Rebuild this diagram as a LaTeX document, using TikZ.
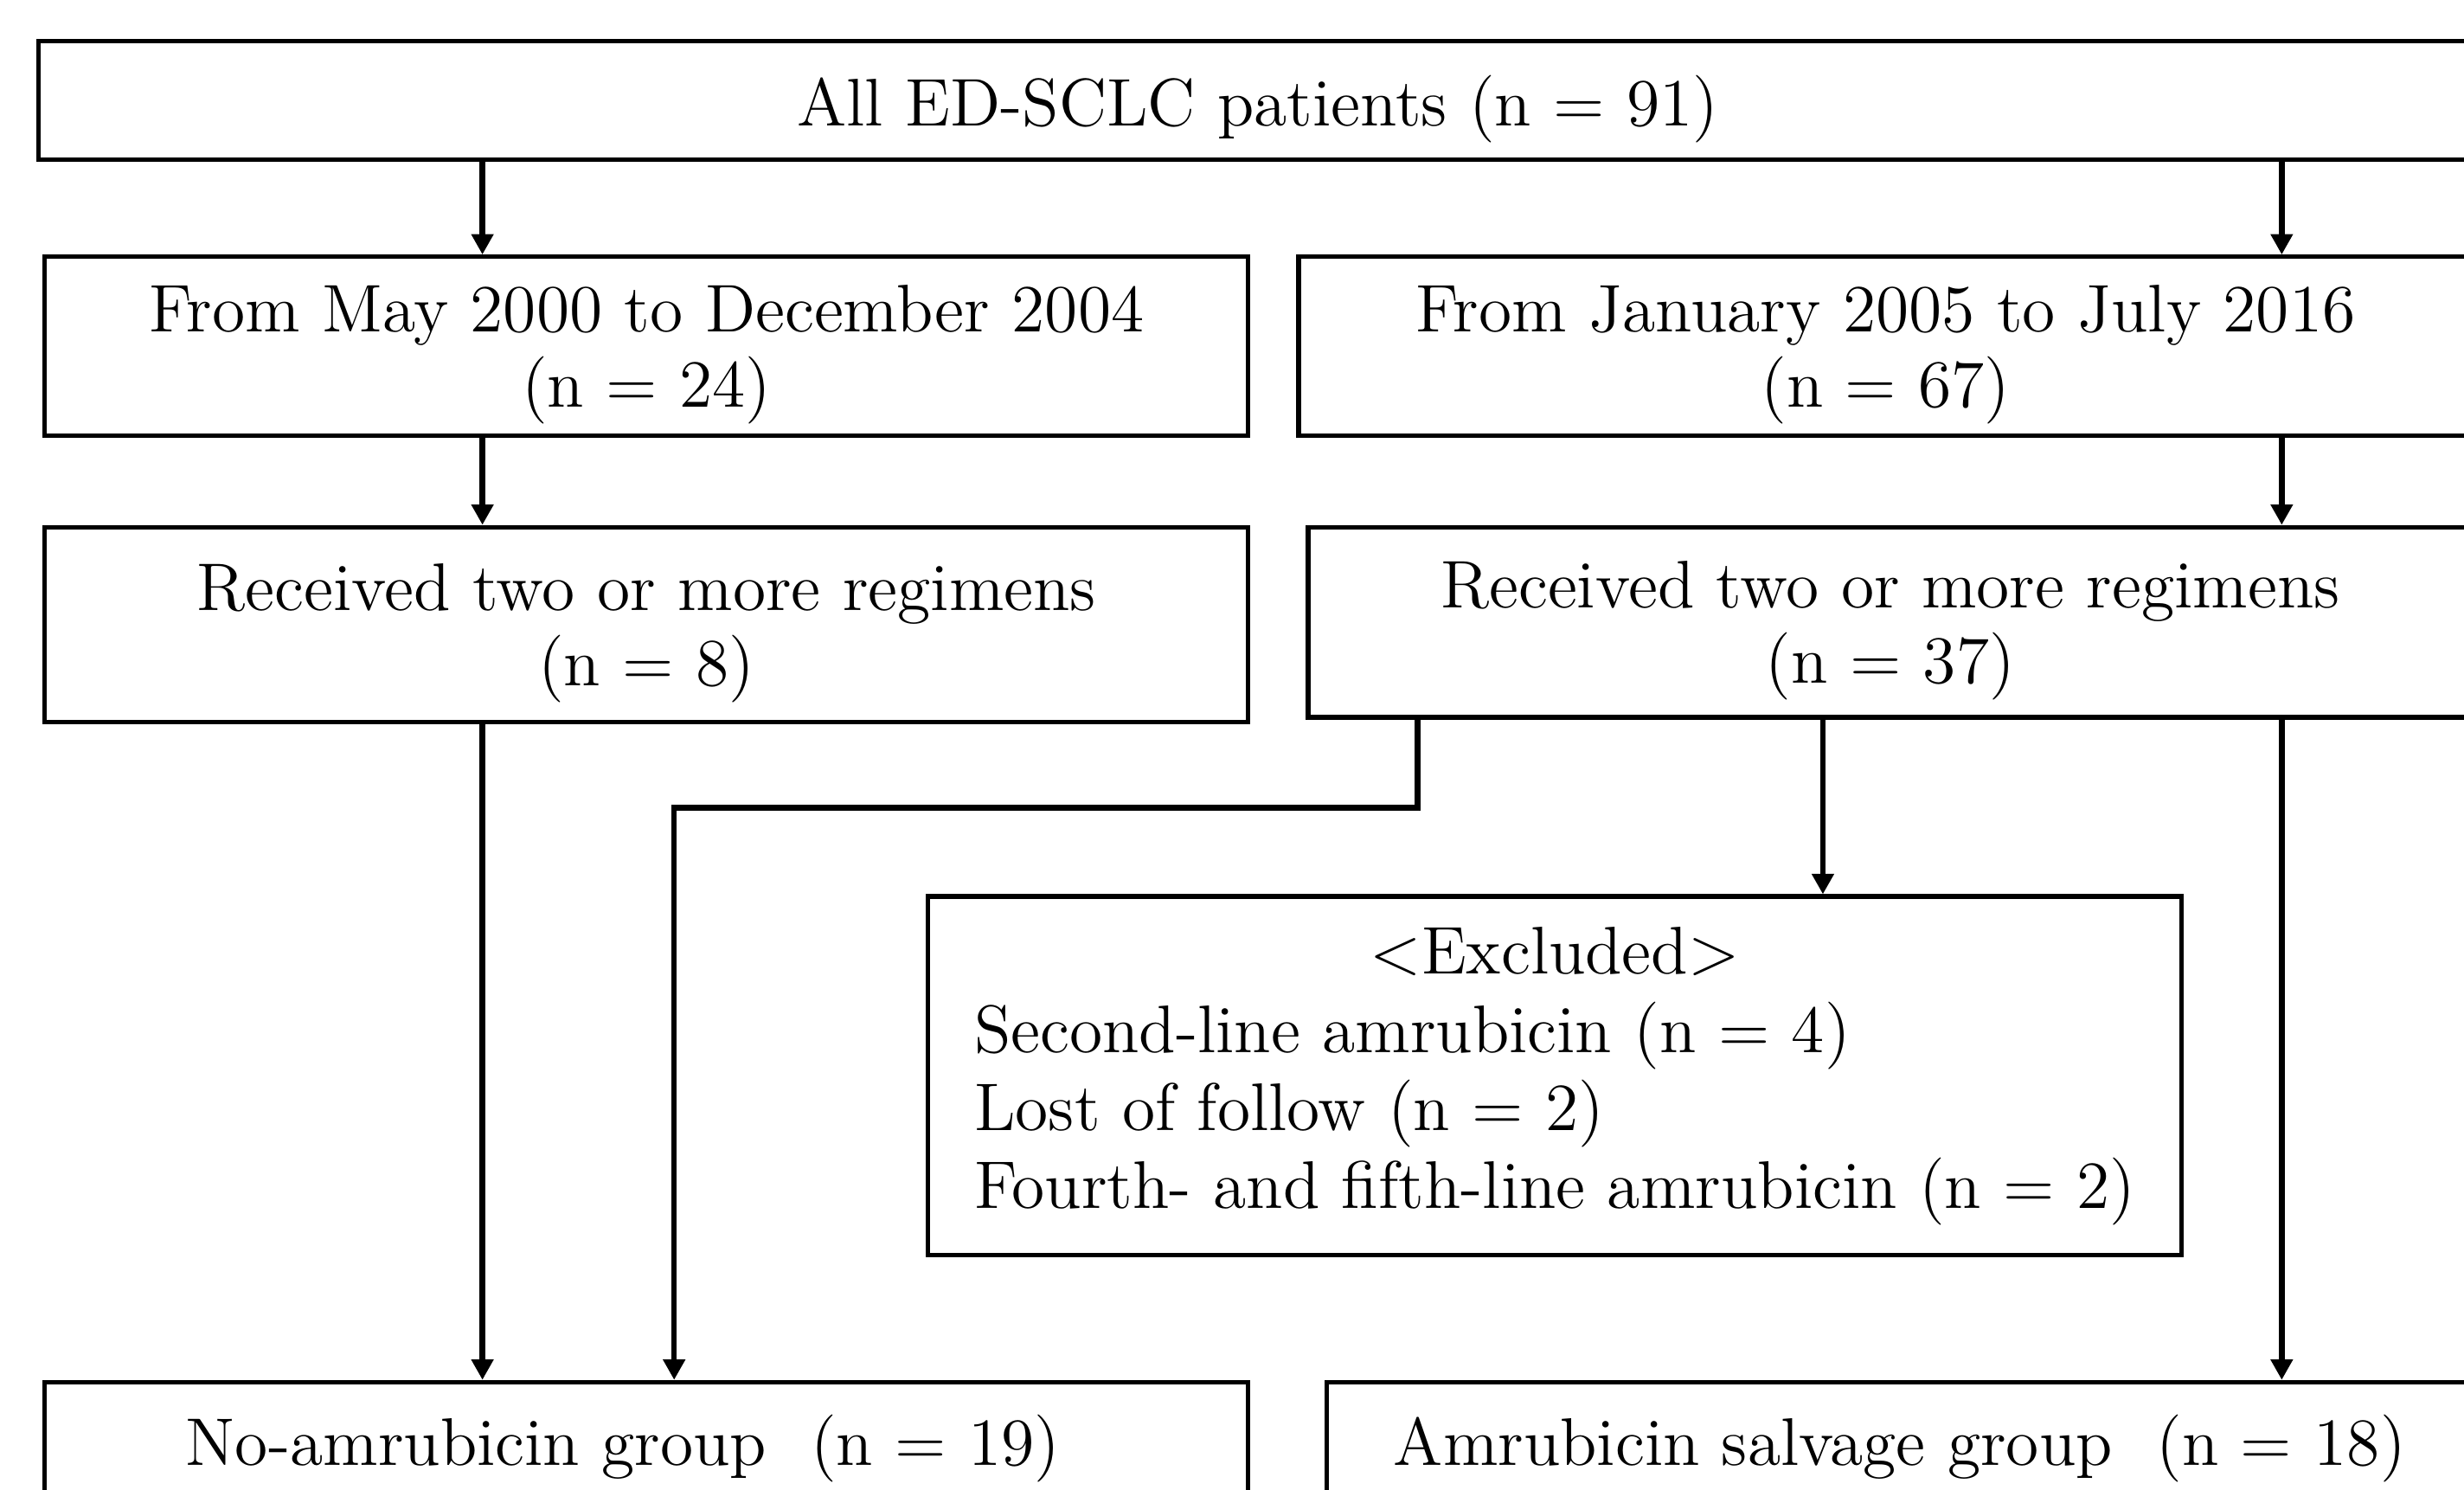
\documentclass[tikz,border=0pt]{standalone}
\usepackage{tikz}
\usetikzlibrary{shapes,arrows.meta}
\begin{document}
\begin{tikzpicture}
\tikzstyle{every node}=[font=\fontsize{12.2}{13.6}\selectfont]
\tikzstyle{box}=[draw, line width=0.8pt, rectangle, anchor=north west, inner sep=0pt, align=center]
\tikzstyle{low}=[text depth=0pt]
\tikzstyle{arr}=[line width=1pt, -{Triangle[length=0.13cm, width=0.135cm]}]
\useasboundingbox (0,0) rectangle (15.68,-9.48);
% boxes
\node[box, low, minimum width=15.52cm, minimum height=0.75cm] (all) at (0.23,-0.25) {All ED-SCLC patients (n = 91)};
\node[box, low, minimum width=7.66cm, minimum height=1.14cm] (early) at (0.27,-1.62) {From May 2000 to December 2004\\(n = 24)};
\node[box, low, minimum width=7.47cm, minimum height=1.14cm] (late) at (8.25,-1.62) {From January 2005 to July 2016\\(n = 67)};
\node[box, low, minimum width=7.66cm, minimum height=1.24cm] (recA) at (0.27,-3.34) {Received two or more regimens\\(n = 8)};
\node[box, low, minimum width=7.41cm, minimum height=1.21cm] (recB) at (8.31,-3.34) {Received two or more regimens\\(n = 37)};
\node[box, minimum width=7.98cm, minimum height=2.28cm] (excl) at (5.89,-5.69) {\renewcommand{\arraystretch}{1.04}\raisebox{-0.05cm}{\begin{tabular}{@{}l@{}}
\multicolumn{1}{@{}c@{}}{<Excluded>}\\
Second-line amrubicin (n = 4)\\
Lost of follow (n = 2)\\
Fourth- and fifth-line amrubicin (n = 2)
\end{tabular}}};
\node[box, minimum width=7.66cm, minimum height=0.84cm] (noamr) at (0.27,-8.78) {No-amrubicin group\ \ (n = 19)\hspace*{0.3cm}};
\node[box, minimum width=7.29cm, minimum height=0.84cm] (amr) at (8.43,-8.78) {Amrubicin salvage group\ \ (n = 18)};
% columns of the connectors
\coordinate (c1) at (3.07,0);
\coordinate (c2) at (14.52,0);
\coordinate (c3) at (9.02,-5.14);
\coordinate (c4) at (4.29,0);
\coordinate (c5) at (11.60,0);
% connectors
\draw[arr] (all.south -| c1) -- (early.north -| c1);
\draw[arr] (all.south -| c2) -- (late.north -| c2);
\draw[arr] (early.south -| c1) -- (recA.north -| c1);
\draw[arr] (late.south -| c2) -- (recB.north -| c2);
\draw[arr] (recA.south -| c1) -- (noamr.north -| c1);
\draw[arr] (recB.south -| c3) -- (c3) -| (noamr.north -| c4);
\draw[arr] (recB.south -| c5) -- (excl.north -| c5);
\draw[arr] (recB.south -| c2) -- (amr.north -| c2);
\end{tikzpicture}
\end{document}
